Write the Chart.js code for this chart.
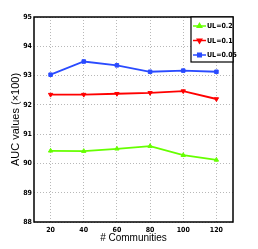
<!DOCTYPE html>
<html>
<head>
<meta charset="utf-8">
<script src="https://cdn.jsdelivr.net/npm/chart.js@4"></script>
<style>
  html, body { margin: 0; padding: 0; background: #fff; }
  #wrap { width: 258px; height: 249px; }
</style>
</head>
<body>
<div id="wrap"><canvas id="auc_chart" width="258" height="249"></canvas></div>
<script>
const communities = [20, 40, 60, 80, 100, 120];
const ul02 = [90.43, 90.42, 90.50, 90.59, 90.28, 90.12];
const ul01 = [92.35, 92.35, 92.38, 92.41, 92.47, 92.20];
const ul005 = [93.03, 93.48, 93.35, 93.13, 93.17, 93.13];
const yTicks = [88, 89, 90, 91, 92, 93, 94, 95];

const narrow = '"DejaVu Sans Condensed", "Liberation Sans", sans-serif';
const tickFont = { family: narrow, size: 7, weight: 'bold' };

// black box round the plot area
const framePlugin = {
    id: 'frame',
    afterDraw(chart) {
        const { ctx, chartArea: a } = chart;
        ctx.save();
        ctx.strokeStyle = '#000';
        ctx.lineWidth = 1.5;
        ctx.strokeRect(a.left, a.top, a.right - a.left, a.bottom - a.top);
        ctx.restore();
    }
};

// MATLAB-like legend in the top right corner
const legendPlugin = {
    id: 'boxLegend',
    afterDraw(chart) {
        const { ctx, chartArea: a } = chart;
        const sets = chart.data.datasets;
        const w = 42, h = 45;
        const x0 = a.right - w, y0 = a.top;
        ctx.save();
        ctx.fillStyle = '#fff';
        ctx.fillRect(x0, y0, w, h);
        ctx.strokeStyle = '#000';
        ctx.lineWidth = 1.2;
        ctx.strokeRect(x0, y0, w, h);
        ctx.font = 'bold 7px ' + narrow;
        ctx.textBaseline = 'middle';
        sets.forEach((ds, i) => {
            const y = y0 + 9 + i * 14.5;
            ctx.strokeStyle = ds.borderColor;
            ctx.fillStyle = ds.borderColor;
            ctx.lineWidth = 1.5;
            ctx.beginPath();
            ctx.moveTo(x0 + 2, y);
            ctx.lineTo(x0 + 15, y);
            ctx.stroke();
            Chart.helpers.drawPoint(ctx, {
                pointStyle: ds.pointStyle, radius: 2.5, rotation: ds.pointRotation || 0, borderWidth: 1
            }, x0 + 8.5, y);
            ctx.fillStyle = '#000';
            ctx.fillText(ds.label, x0 + 16, y + 0.5);
        });
        ctx.restore();
    }
};

function makeSet(label, values, color, style, rot) {
    return {
        label: label,
        data: communities.map((c, i) => ({ x: c, y: values[i] })),
        borderColor: color,
        backgroundColor: color,
        borderWidth: 1.8,
        pointStyle: style,
        pointRotation: rot,
        pointRadius: 2.5,
        pointBorderWidth: 1,
        tension: 0
    };
}

new Chart(document.getElementById('auc_chart'), {
    type: 'line',
    data: {
        datasets: [
            makeSet('UL=0.2', ul02, '#66ff00', 'triangle', 0),
            makeSet('UL=0.1', ul01, '#ff0000', 'triangle', 180),
            makeSet('UL=0.05', ul005, '#2a4bff', 'rect', 0)
        ]
    },
    options: {
        responsive: false,
        animation: false,
        layout: { padding: { top: 17, right: 25, left: 9, bottom: 5 } },
        plugins: { legend: { display: false }, tooltip: { enabled: false } },
        scales: {
            x: {
                type: 'linear',
                min: 10, max: 130,
                afterBuildTicks(scale) { scale.ticks = communities.map(v => ({ value: v })); },
                afterFit(scale) { scale.height = 22; },
                grid: { color: '#9a9a9a', drawTicks: false, lineWidth: 0.7 },
                border: { display: false, dash: [1, 2] },
                ticks: { color: '#000', font: tickFont, padding: 4, maxRotation: 0 },
                title: {
                    display: true, text: '# Communities', color: '#000',
                    font: { family: 'Liberation Sans', size: 10 }, padding: { top: 0, bottom: 0 }
                }
            },
            y: {
                min: 88, max: 95,
                afterBuildTicks(scale) { scale.ticks = yTicks.map(v => ({ value: v })); },
                afterFit(scale) { scale.width = 25; },
                grid: { color: '#9a9a9a', drawTicks: false, lineWidth: 0.7 },
                border: { display: false, dash: [1, 2] },
                ticks: { color: '#000', font: tickFont, padding: 2 },
                title: {
                    display: true, text: 'AUC values (\u00d7100)', color: '#000',
                    font: { family: 'Liberation Sans', size: 11 }, padding: { top: 0, bottom: 0 }
                }
            }
        }
    },
    plugins: [framePlugin, legendPlugin]
});
</script>
</body>
</html>
